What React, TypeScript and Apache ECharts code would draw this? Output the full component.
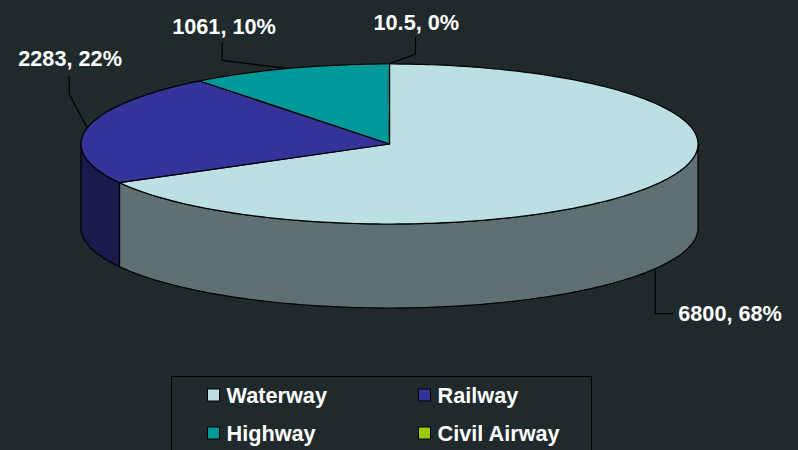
import React, { useEffect, useRef } from "react";
import * as echarts from "echarts";

const categories = ["Waterway", "Railway", "Highway", "Civil Airway"];
const values = [6800, 2283, 1061, 10.5];
const percents = [68, 22, 10, 0];
const topColors = ["#BBE0E3", "#333399", "#009999", "#99CC00"];
const sideColors = ["#5E7072", "#1A1A4D", "#004D4D", "#4D6600"];
// leader elbow + label anchor, relative to the slice's mid-edge anchor
const leaderElbow = [[0, 45], [-18, -34], [-66, -8], [27, -10]];
const leaderEnd = [[18, 45], [-18, -52], [-66, -26], [27, -27]];
const labelAt = [[23, 45], [-69, -69], [-116, -42], [-15, -42]];

const W = 798, H = 450;
const CX = 389.5, CY = 144, RX = 308.5, RY = 80, DEPTH = 84;
const BG = "#20292B";
const FONT = 'bold 21.7px "Liberation Sans", Arial, sans-serif';

const total = values.reduce((a, b) => a + b, 0);
const starts: number[] = [];
values.reduce((acc, v, i) => { starts[i] = acc; return acc + v; }, 0);

const pt = (deg: number, dy = 0): number[] => {
  const t = (deg * Math.PI) / 180;
  return [CX + RX * Math.sin(t), CY - RY * Math.cos(t) + dy];
};

const arcPts = (a: number, b: number, dy = 0): number[][] => {
  const out: number[][] = [];
  const n = Math.max(1, Math.ceil(Math.abs(b - a)));
  for (let i = 0; i <= n; i++) out.push(pt(a + ((b - a) * i) / n, dy));
  return out;
};

const renderSlice = (idx: number) => (_params: any, api: any) => {
  const value = api.value(0);
  const a0 = (starts[idx] / total) * 360;
  const a1 = ((starts[idx] + value) / total) * 360;
  const mid = (a0 + a1) / 2;
  const lineStyle = { stroke: "#000", lineWidth: 1.2, lineJoin: "round" };
  const children: any[] = [];

  const s0 = Math.max(a0, 90), s1 = Math.min(a1, 270);
  if (s1 > s0) {
    children.push({
      type: "polygon",
      shape: { points: [...arcPts(s0, s1), ...arcPts(s1, s0, DEPTH)] },
      style: { fill: sideColors[idx], ...lineStyle },
    });
  }
  if (a1 - a0 < 1 && idx > 0) {
    // a hairline slice: it shows only as its closing edge, next to the slice before it
    children.push({
      type: "polygon",
      shape: { points: [[CX, CY], ...arcPts(a0, a1)] },
      style: { fill: topColors[idx - 1], stroke: topColors[idx - 1], lineWidth: 1.2 },
    });
    children.push({
      type: "polyline",
      shape: { points: [...arcPts(a0, a1), [CX, CY]] },
      style: { fill: "none", ...lineStyle },
    });
  } else {
    children.push({
      type: "polygon",
      shape: { points: [[CX, CY], ...arcPts(a0, a1)] },
      style: { fill: topColors[idx], ...lineStyle },
    });
  }

  const onFront = mid > 90 && mid < 270;
  const anchor = pt(mid, onFront ? DEPTH : 0);
  const e = leaderElbow[idx], f = leaderEnd[idx], l = labelAt[idx];
  children.push({
    type: "polyline",
    shape: { points: [anchor, [anchor[0] + e[0], anchor[1] + e[1]], [anchor[0] + f[0], anchor[1] + f[1]]] },
    style: { fill: "none", stroke: "#000", lineWidth: 1.2 },
  });
  children.push({
    type: "text",
    style: {
      text: `${value}, ${percents[idx]}%`,
      x: anchor[0] + l[0],
      y: anchor[1] + l[1],
      fill: "#fff",
      font: FONT,
      textAlign: "left",
      textVerticalAlign: "middle",
    },
  });
  return { type: "group", children };
};

const legendBase = {
  orient: "vertical" as const,
  top: 384,
  itemWidth: 12,
  itemHeight: 12,
  itemGap: 16,
  padding: 0,
  selectedMode: false,
  icon: "rect",
  itemStyle: { borderColor: "#000", borderWidth: 1 },
  textStyle: { color: "#fff", fontSize: 21.7, fontWeight: "bold" as const, fontFamily: '"Liberation Sans", Arial, sans-serif', padding: [0, 0, 0, 2] },
};

export default function App() {
  const ref = useRef<HTMLDivElement>(null);
  useEffect(() => {
    const chart = echarts.init(ref.current!, undefined, { renderer: "svg" });
    chart.setOption({
      animation: false,
      backgroundColor: BG,
      legend: [
        { ...legendBase, left: 207, data: [categories[0], categories[2]] },
        { ...legendBase, left: 418, data: [categories[1], categories[3]] },
      ],
      graphic: [
        {
          type: "rect",
          shape: { x: 171.5, y: 376.5, width: 420, height: 90 },
          style: { fill: "none", stroke: "#000", lineWidth: 1 },
        },
      ],
      series: categories.map((name, i) => ({
        type: "custom",
        name,
        coordinateSystem: "none",
        silent: true,
        itemStyle: { color: topColors[i] },
        data: [[values[i]]],
        renderItem: renderSlice(i),
      })),
    });
    return () => chart.dispose();
  }, []);
  return <div ref={ref} style={{ position: "absolute", left: 0, top: 0, width: W, height: H }} />;
}
